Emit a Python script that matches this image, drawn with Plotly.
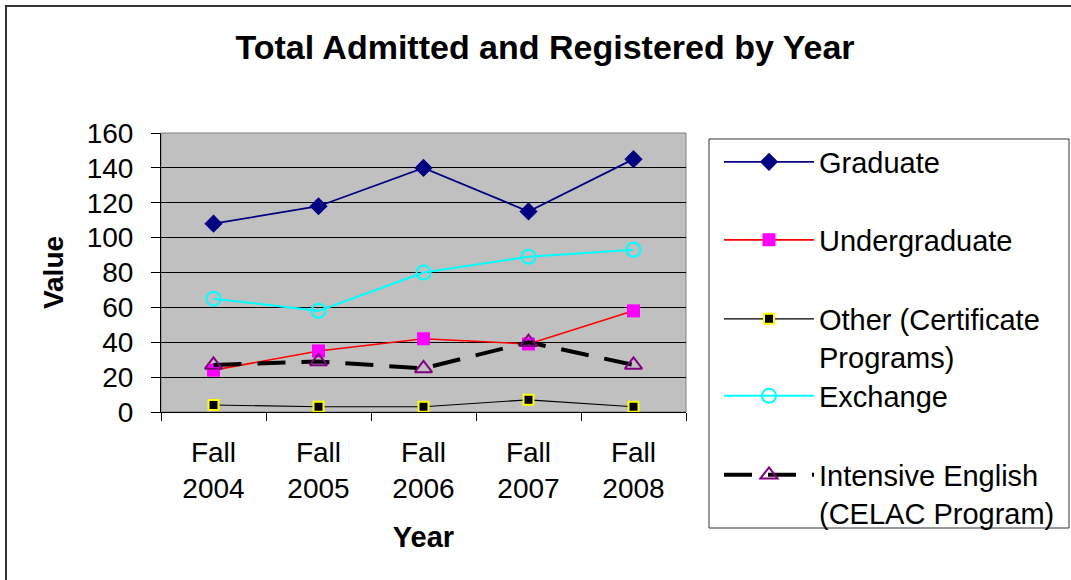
import plotly.graph_objects as go

categories = ["Fall<br>2004", "Fall<br>2005", "Fall<br>2006", "Fall<br>2007", "Fall<br>2008"]
graduate = [108, 118, 140, 115, 145]
undergraduate = [24, 35, 42, 39, 58]
other = [4, 3, 3, 7, 3]
exchange = [65, 58, 80, 89, 93]
intensive = [27, 29, 25, 40, 27]
y_ticks = [0, 20, 40, 60, 80, 100, 120, 140, 160]

W, H = 1071, 580
L, R, T, B = 161, 686, 133, 412
FONT = "Liberation Sans, Arial, sans-serif"

def px2paper_x(px):
    return (px - L) / (R - L)

def px2paper_y(py):
    return (B - py) / (B - T)

fig = go.Figure()

fig.add_trace(go.Scatter(
    x=categories, y=graduate, name="Graduate", mode="lines+markers",
    line=dict(color="#000080", width=1.8),
    marker=dict(symbol="diamond", size=14, color="#000080"),
    legend="legend"))
fig.add_trace(go.Scatter(
    x=categories, y=undergraduate, name="Undergraduate", mode="lines+markers",
    line=dict(color="#FF0000", width=1.6),
    marker=dict(symbol="square", size=13, color="#FF00FF"),
    legend="legend2"))
fig.add_trace(go.Scatter(
    x=categories, y=other, name="Other (Certificate<br>Programs)", mode="lines+markers",
    line=dict(color="#000000", width=1.2),
    marker=dict(symbol="square", size=10, color="#000000",
                line=dict(color="#FFFF00", width=2)),
    legend="legend3"))
fig.add_trace(go.Scatter(
    x=categories, y=exchange, name="Exchange", mode="lines+markers",
    line=dict(color="#00FFFF", width=2),
    marker=dict(symbol="circle-open", size=14, color="#00FFFF", line=dict(width=2)),
    legend="legend4"))
fig.add_trace(go.Scatter(
    x=categories, y=intensive, name="Intensive English<br>(CELAC Program)", mode="lines+markers",
    line=dict(color="#000000", width=4, dash="28px,16px"),
    marker=dict(symbol="triangle-up-open", size=15, color="#800080", line=dict(width=2)),
    legend="legend5"))

legend_common = dict(
    xref="container", yref="container", xanchor="left", yanchor="middle",
    bgcolor="rgba(0,0,0,0)", borderwidth=0, valign="top", itemwidth=90,
    font=dict(family=FONT, size=29, color="#000000"),
)
legend_pos = [(719, 162), (719, 240), (719, 338), (719, 396), (719, 494)]
layout_legends = {}
for i, (lx, ly) in enumerate(legend_pos):
    key = "legend" if i == 0 else f"legend{i+1}"
    layout_legends[key] = dict(x=lx / W, y=1 - ly / H, **legend_common)

fig.update_layout(
    width=W, height=H,
    margin=dict(l=L, r=W - R, t=T, b=H - B, autoexpand=False),
    paper_bgcolor="#FFFFFF",
    plot_bgcolor="#C0C0C0",
    font=dict(family=FONT, size=28, color="#000000"),
    title=dict(text="<b>Total Admitted and Registered by Year</b>",
               x=545 / W, xanchor="center", xref="container",
               y=1 - 47 / H, yanchor="middle", yref="container",
               font=dict(family=FONT, size=34, color="#000000")),
    showlegend=True,
    **layout_legends,
)

fig.update_xaxes(
    type="category", range=[-0.5, len(categories) - 0.5],
    tickson="boundaries", ticks="outside", ticklen=8,
    tickcolor="#000000", tickwidth=1, showgrid=False,
    showline=True, linecolor="#000000", linewidth=1,
    tickfont=dict(family=FONT, size=28, color="#000000"),
    ticklabelstandoff=15,
    title=dict(text="<b>Year</b>", standoff=23,
               font=dict(family=FONT, size=29, color="#000000")),
)
fig.update_yaxes(
    range=[0, 160], tickvals=y_ticks, ticks="outside", ticklen=9,
    tickcolor="#000000", tickwidth=1,
    showgrid=True, gridcolor="#000000", gridwidth=1, zeroline=False,
    showline=True, linecolor="#000000", linewidth=1,
    tickfont=dict(family=FONT, size=28, color="#000000"),
    ticklabelstandoff=12,
    title=dict(text="<b>Value</b>", standoff=14,
               font=dict(family=FONT, size=28, color="#000000")),
)

# plot-area outline (grey), legend box, outer chart border
fig.add_shape(type="rect", xref="x domain", yref="y domain", x0=0, x1=1, y0=0, y1=1,
              line=dict(color="#808080", width=1), layer="below")
fig.add_shape(type="rect", xref="paper", yref="paper",
              x0=px2paper_x(709), x1=px2paper_x(1069),
              y0=px2paper_y(528), y1=px2paper_y(139),
              line=dict(color="#333333", width=1))
fig.add_shape(type="rect", xref="paper", yref="paper",
              x0=px2paper_x(6), x1=px2paper_x(1200),
              y0=px2paper_y(700), y1=px2paper_y(6),
              line=dict(color="#333333", width=2))

fig.write_html("out.html", config={"displayModeBar": False},
               post_script="document.body.style.margin='0px';")
